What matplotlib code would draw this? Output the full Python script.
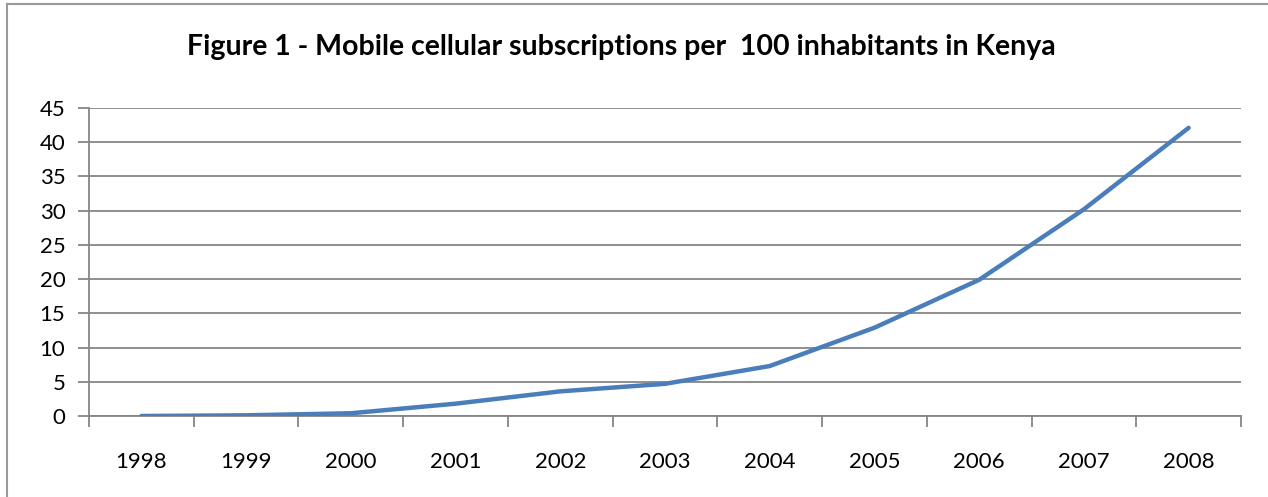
import numpy as np
import matplotlib.pyplot as plt
from matplotlib.lines import Line2D

years = ['1998', '1999', '2000', '2001', '2002', '2003', '2004', '2005', '2006', '2007', '2008']
subs = [0.0, 0.1, 0.4, 1.8, 3.6, 4.7, 7.3, 12.9, 19.9, 30.2, 42.1]
yticks = [0, 5, 10, 15, 20, 25, 30, 35, 40, 45]

plt.rcParams['font.family'] = ['Lato', 'DejaVu Sans']

fig = plt.figure(figsize=(12.68, 4.97), dpi=100)
ax = fig.add_axes([89/1268, 1-416/497, (1241-89)/1268, (416-108)/497])

x = np.arange(len(years))
ax.plot(x, subs, color='#4A7EBB', lw=3.2, solid_capstyle='round', solid_joinstyle='round', zorder=3)

grid_c = '#868686'
ax.set_ylim(0, 45)
ax.set_xlim(-0.5, len(years) - 0.5)
ax.set_yticks(yticks)
ax.set_yticklabels([str(v) for v in yticks], fontsize=16)
for v in yticks:
    ax.axhline(v, color=grid_c, lw=1.3, zorder=1)

# category axis: tick marks between categories, labels centred
ax.set_xticks(x)
ax.set_xticklabels(years, fontsize=16)
ax.set_xticks(np.arange(-0.5, len(years)), minor=True)
ax.tick_params(axis='x', which='major', length=0, pad=26)
ax.tick_params(axis='x', which='minor', length=8, width=1.3, color=grid_c)
ax.tick_params(axis='y', length=8, width=1.3, color=grid_c, pad=9)

for s in ['top', 'right']:
    ax.spines[s].set_visible(False)
for s in ['left', 'bottom']:
    ax.spines[s].set_color(grid_c)
    ax.spines[s].set_linewidth(1.3)

fig.text(621/1268, 1-47/497, 'Figure 1 - Mobile cellular subscriptions per  100 inhabitants in Kenya',
         ha='center', va='center', fontsize=20.5, fontweight='bold')

# chart frame (left and top edges visible)
fig.add_artist(Line2D([7/1268, 7/1268], [0, 1-4/497], transform=fig.transFigure, color='#9a9a9a', lw=1.5))
fig.add_artist(Line2D([7/1268, 1], [1-4/497, 1-4/497], transform=fig.transFigure, color='#9a9a9a', lw=1.5))

fig.savefig('out.png', dpi=100)
